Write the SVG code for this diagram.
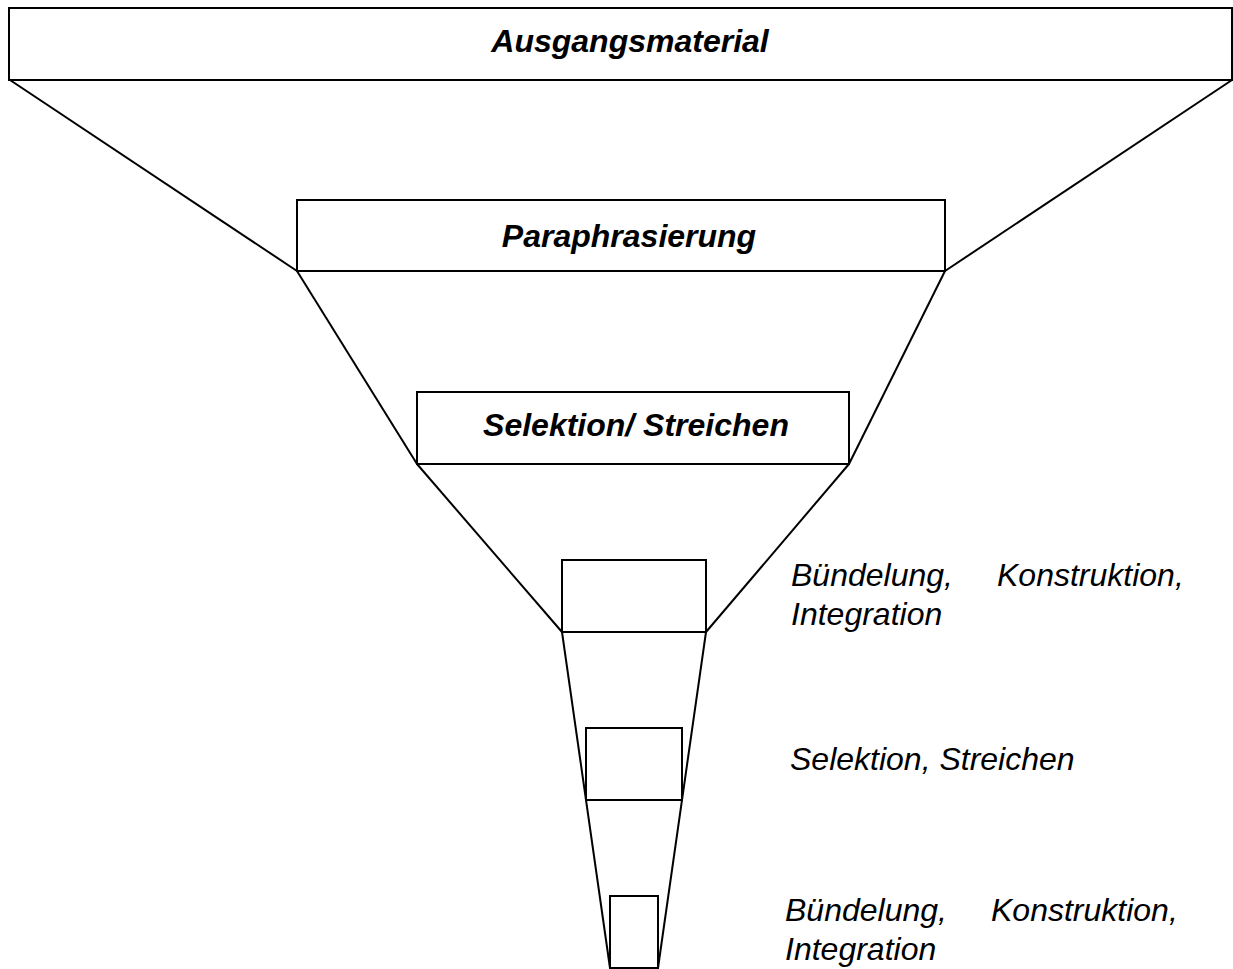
<svg xmlns="http://www.w3.org/2000/svg" width="1233" height="969" viewBox="0 0 1233 969">
<style>
.box{fill:#fff;stroke:#000;stroke-width:2}
.ln{stroke:#000;stroke-width:2;fill:none}
.bt{font-family:"Liberation Sans",Arial,sans-serif;font-weight:bold;font-style:italic;font-size:32px;fill:#000;text-anchor:middle}
.it{font-family:"Liberation Sans",Arial,sans-serif;font-style:italic;font-size:32px;fill:#000}
</style>
<rect width="1233" height="969" fill="#fff"/>
<g id="connectors">
<line class="ln" x1="10" y1="80" x2="297" y2="271"/>
<line class="ln" x1="1232" y1="80" x2="945" y2="271"/>
<line class="ln" x1="297" y1="271" x2="417" y2="464"/>
<line class="ln" x1="945" y1="271" x2="849" y2="464"/>
<line class="ln" x1="417" y1="464" x2="562" y2="632"/>
<line class="ln" x1="849" y1="464" x2="706" y2="632"/>
<line class="ln" x1="562" y1="632" x2="610" y2="968"/>
<line class="ln" x1="706" y1="632" x2="658" y2="968"/>
</g>
<g id="n1">
<rect class="box" x="9" y="8" width="1223" height="72"/>
<text class="bt" x="630" y="52">Ausgangsmaterial</text>
</g>
<g id="n2">
<rect class="box" x="297" y="200" width="648" height="71"/>
<text class="bt" x="629" y="247">Paraphrasierung</text>
</g>
<g id="n3">
<rect class="box" x="417" y="392" width="432" height="72"/>
<text class="bt" x="636" y="436">Selektion/ Streichen</text>
</g>
<g id="n4">
<rect class="box" x="562" y="560" width="144" height="72"/>
</g>
<g id="n5">
<rect class="box" x="586" y="728" width="96" height="72"/>
</g>
<g id="n6">
<rect class="box" x="610" y="896" width="48" height="72"/>
</g>
<g id="labels">
<text class="it" x="791" y="586">Bündelung,</text>
<text class="it" x="997" y="586">Konstruktion,</text>
<text class="it" x="791" y="625">Integration</text>
<text class="it" x="790" y="770">Selektion, Streichen</text>
<text class="it" x="785" y="921">Bündelung,</text>
<text class="it" x="991" y="921">Konstruktion,</text>
<text class="it" x="785" y="960">Integration</text>
</g>
</svg>
